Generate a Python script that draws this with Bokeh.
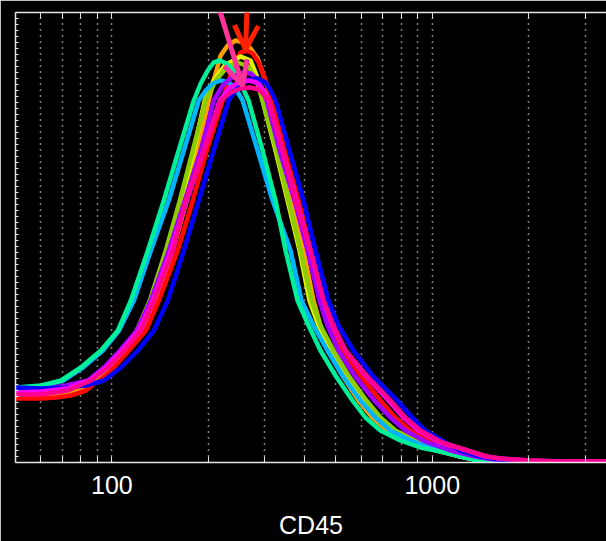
from bokeh.plotting import figure
from bokeh.models import Range1d, FixedTicker, LogAxis, Arrow, OpenHead, NumeralTickFormatter
from bokeh.embed import file_html
from bokeh.resources import INLINE

# ---- data (CD45 intensity vs. event count) ----
sg_x = [50.2, 60.1, 69.4, 80.0, 92.4, 104.4, 114.6, 129.5, 145.2, 161.6, 180.1, 189.3, 199.1, 207.8, 217.0, 228.1, 239.9, 252.2, 267.1, 295.3, 324.2, 348.4, 379.7, 410.9, 447.8, 498.8, 563.6, 618.6, 689.0, 795.3, 917.9, 1059, 1223, 1382, 1629, 3488]
sg_y = [75, 77, 82, 95, 112, 132, 162, 212, 262, 312, 362, 379, 392, 400, 402, 399, 392, 379, 362, 312, 262, 212, 162, 137, 112, 87, 62, 45, 32, 22, 15, 11, 6, 2, 1, 1]

sb_x = [50.2, 60.1, 70.4, 81.2, 93.7, 105.2, 117.1, 132.3, 150.5, 167.7, 186.7, 196.3, 206.3, 218.5, 231.4, 243.3, 255.9, 285.0, 317.3, 361.1, 390.8, 425.9, 470.9, 524.5, 596.8, 664.7, 740.3, 854.5, 986.2, 1138, 1314, 1516, 1750, 3488]
sb_y = [74, 76, 82, 95, 112, 132, 162, 212, 262, 312, 362, 372, 379, 382, 380, 374, 362, 312, 262, 212, 162, 137, 112, 87, 62, 45, 32, 22, 15, 10, 6, 3, 1, 1]

ol_x = [50.2, 60.1, 71.9, 86.0, 96.5, 108.2, 119.6, 131.4, 147.3, 162.9, 178.8, 196.3, 210.8, 228.1, 246.8, 267.1, 283.0, 295.3, 326.5, 356.0, 388.0, 419.8, 447.8, 491.7, 547.6, 623.1, 689.0, 767.3, 885.7, 1059, 1223, 1411, 1750, 3488]
ol_y = [71, 72, 75, 82, 95, 112, 132, 162, 212, 262, 312, 362, 382, 395, 400, 396, 382, 362, 312, 262, 212, 162, 137, 112, 87, 62, 45, 32, 22, 12, 6, 2, 1, 1]

ye_x = [50.2, 60.1, 71.9, 86.0, 96.5, 109.0, 120.5, 132.3, 149.4, 165.3, 180.1, 194.9, 207.8, 224.9, 252.2, 271.0, 282.9, 295.3, 324.2, 353.5, 385.2, 413.8, 441.4, 484.7, 539.8, 614.2, 679.2, 756.3, 873.1, 1059, 1223, 1411, 1750, 3488]
ye_y = [70, 71, 74, 81, 94, 112, 132, 162, 212, 262, 312, 362, 382, 397, 406, 402, 387, 362, 312, 262, 212, 162, 137, 112, 87, 62, 45, 32, 22, 12, 6, 2, 1, 1]

or_x = [50.2, 60.1, 69.4, 80.0, 89.1, 99.3, 110.6, 124.9, 137.1, 154.9, 171.2, 185.3, 200.6, 207.8, 218.5, 229.8, 243.3, 257.7, 271.0, 285.0, 297.5, 308.3, 315.1, 338.5, 366.3, 396.4, 425.9, 447.8, 474.3, 524.5, 588.3, 650.5, 724.5, 854.5, 1059, 1268, 1516, 1880, 3488]
or_y = [66, 66, 69, 74, 82, 95, 112, 132, 162, 212, 262, 312, 362, 382, 407, 417, 422, 420, 414, 404, 387, 372, 362, 312, 262, 212, 162, 137, 112, 87, 62, 45, 32, 20, 11, 5, 2, 1, 1]

re_x = [50.2, 60.1, 66.9, 74.5, 83.0, 90.4, 101.4, 113.0, 127.6, 140.1, 160.5, 178.9, 197.7, 221.7, 231.4, 241.6, 252.2, 263.3, 274.9, 287.0, 301.8, 317.3, 345.9, 382.5, 416.8, 454.3, 481.2, 524.5, 596.8, 689.0, 767.3, 854.5, 986.2, 1180, 1411, 1689, 2020, 3488]
re_y = [64, 64, 65, 67, 72, 82, 95, 112, 132, 162, 212, 262, 312, 362, 382, 400, 410, 412, 409, 400, 382, 362, 312, 262, 212, 162, 137, 112, 87, 62, 45, 32, 21, 12, 6, 2, 1, 1]

pu_x = [50.2, 60.1, 71.9, 84.2, 94.4, 105.9, 119.7, 132.3, 150.5, 168.8, 189.3, 207.8, 221.7, 238.2, 255.9, 271.0, 287.0, 304.0, 333.7, 371.6, 407.9, 444.6, 470.9, 509.6, 571.7, 659.9, 740.3, 824.3, 951.4, 1138, 1362, 1629, 2020, 3488]
pu_y = [72, 73, 77, 82, 95, 112, 132, 162, 212, 262, 312, 362, 377, 386, 390, 389, 382, 362, 312, 262, 212, 162, 137, 112, 87, 62, 45, 32, 21, 12, 6, 2, 1, 1]

ma_x = [50.2, 60.1, 71.9, 84.8, 95.8, 107.5, 121.3, 134.2, 152.7, 171.2, 193.5, 216.9, 231.4, 248.6, 267.1, 282.9, 297.5, 308.3, 341.0, 377.0, 416.8, 457.6, 488.2, 535.9, 618.6, 729.7, 812.6, 904.8, 1059, 1286, 1462, 1629, 2020, 2509, 3488]
ma_y = [70, 71, 74, 82, 95, 112, 132, 162, 212, 262, 312, 362, 374, 380, 382, 380, 372, 362, 312, 262, 212, 162, 137, 112, 87, 62, 45, 32, 20, 12, 6, 4, 2, 1, 1]

pk_x = [50.2, 60.1, 72.9, 86.0, 97.2, 109.0, 123.1, 135.1, 154.9, 170.0, 193.5, 218.5, 234.8, 252.2, 271.0, 287.0, 299.6, 308.3, 341.0, 374.3, 416.8, 457.6, 491.7, 535.9, 623.1, 740.3, 824.3, 917.9, 1074, 1286, 1483, 1629, 2020, 2509, 3488]
pk_y = [68, 68, 72, 82, 95, 112, 132, 162, 212, 262, 312, 362, 370, 374, 375, 373, 367, 362, 312, 262, 212, 162, 137, 112, 87, 62, 45, 32, 20, 12, 6, 4, 2, 1, 1]

bl_x = [50.2, 60.1, 71.9, 83.0, 94.4, 106.7, 120.5, 135.2, 149.4, 167.7, 186.7, 207.8, 231.4, 245.1, 263.3, 285.0, 301.8, 312.8, 324.2, 358.5, 396.4, 432.1, 474.3, 509.6, 567.6, 650.5, 778.4, 866.9, 951.4, 1098, 1223, 1411, 1629, 2020, 3488]
bl_y = [75, 74, 75, 77, 82, 95, 112, 132, 162, 212, 262, 312, 362, 374, 382, 384, 380, 372, 362, 312, 262, 212, 162, 137, 112, 87, 62, 45, 32, 20, 12, 6, 3, 1, 1]

# arrows: (tail x, tail y, tip x, tip y)
pink_arrow = [207.8, 472, 255.9, 377]
red_arrow = [265.2, 472, 261.4, 413]

major_ticks = [100, 1000]
minor_ticks = [60, 70, 80, 90, 200, 300, 400, 500, 600, 700, 800, 900, 2000, 3000]
x_label = "CD45"

series = [
    (or_x, or_y, "#ffa000"),
    (re_x, re_y, "#ff0a00"),
    (ye_x, ye_y, "#e2f500"),
    (ol_x, ol_y, "#8ccc00"),
    (sb_x, sb_y, "#00b4ff"),
    (sg_x, sg_y, "#00f09a"),
    (pu_x, pu_y, "#a000ff"),
    (bl_x, bl_y, "#0000ff"),
    (ma_x, ma_y, "#ff00ff"),
    (pk_x, pk_y, "#ff0090"),
]

p = figure(width=606, height=541, x_axis_type="log",
           x_range=Range1d(50, 3500), y_range=Range1d(0, 450),
           output_backend="svg", toolbar_location=None,
           min_border_left=15, min_border_right=0, min_border_top=12, min_border_bottom=79,
           background_fill_color="black", border_fill_color="black",
           outline_line_color=None)

ticker = FixedTicker(ticks=major_ticks, minor_ticks=minor_ticks)

ax = p.xaxis[0]
ax.ticker = ticker
ax.formatter = NumeralTickFormatter(format="0")
ax.axis_line_color = "#e6e6e6"
ax.axis_line_width = 1.5
ax.major_tick_line_color = "#e6e6e6"
ax.minor_tick_line_color = "#e6e6e6"
ax.major_tick_in = 6
ax.major_tick_out = 0
ax.minor_tick_in = 6
ax.minor_tick_out = 0
ax.major_label_text_color = "white"
ax.major_label_text_font = "Liberation Sans"
ax.major_label_text_font_size = "25px"
ax.major_label_text_line_height = 1.0
ax.major_label_standoff = 13
ax.axis_label = x_label
ax.axis_label_text_color = "white"
ax.axis_label_text_font = "Liberation Sans"
ax.axis_label_text_font_size = "25px"
ax.axis_label_text_font_style = "normal"
ax.axis_label_text_line_height = 1.0
ax.axis_label_standoff = 14

top = LogAxis(ticker=FixedTicker(ticks=major_ticks, minor_ticks=minor_ticks),
              axis_line_color="#e6e6e6", axis_line_width=1.5,
              major_tick_line_color="#e6e6e6", minor_tick_line_color="#e6e6e6",
              major_tick_in=6, major_tick_out=0, minor_tick_in=6, minor_tick_out=0,
              major_label_text_font_size="1px", major_label_text_alpha=0,
              major_label_standoff=0)
p.add_layout(top, "above")

ay = p.yaxis[0]
ay.ticker = FixedTicker(ticks=list(range(0, 451, 6)))
ay.axis_line_color = "#e6e6e6"
ay.axis_line_width = 1.5
ay.major_tick_line_color = "#e6e6e6"
ay.major_tick_in = 3
ay.major_tick_out = 0
ay.minor_tick_line_color = None
ay.major_label_text_font_size = "1px"
ay.major_label_text_alpha = 0
ay.major_label_standoff = 0

p.xgrid.ticker = ticker
p.xgrid.grid_line_color = "white"
p.xgrid.grid_line_dash = "1 5"
p.xgrid.grid_line_width = 1.5
p.xgrid.minor_grid_line_color = "white"
p.xgrid.minor_grid_line_dash = "1 5"
p.xgrid.minor_grid_line_width = 1.5
p.ygrid.visible = False

for xs, ys, c in series:
    p.line(xs, ys, line_color=c, line_width=4.5, line_join="round", line_cap="round")

for arr, c in [(pink_arrow, "#ff3399"), (red_arrow, "#ff2200")]:
    p.add_layout(Arrow(x_start=arr[0], y_start=arr[1], x_end=arr[2], y_end=arr[3],
                       line_color=c, line_width=5,
                       end=OpenHead(size=24, line_color=c, line_width=5)))

open("out.html", "w").write(file_html(p, INLINE))
